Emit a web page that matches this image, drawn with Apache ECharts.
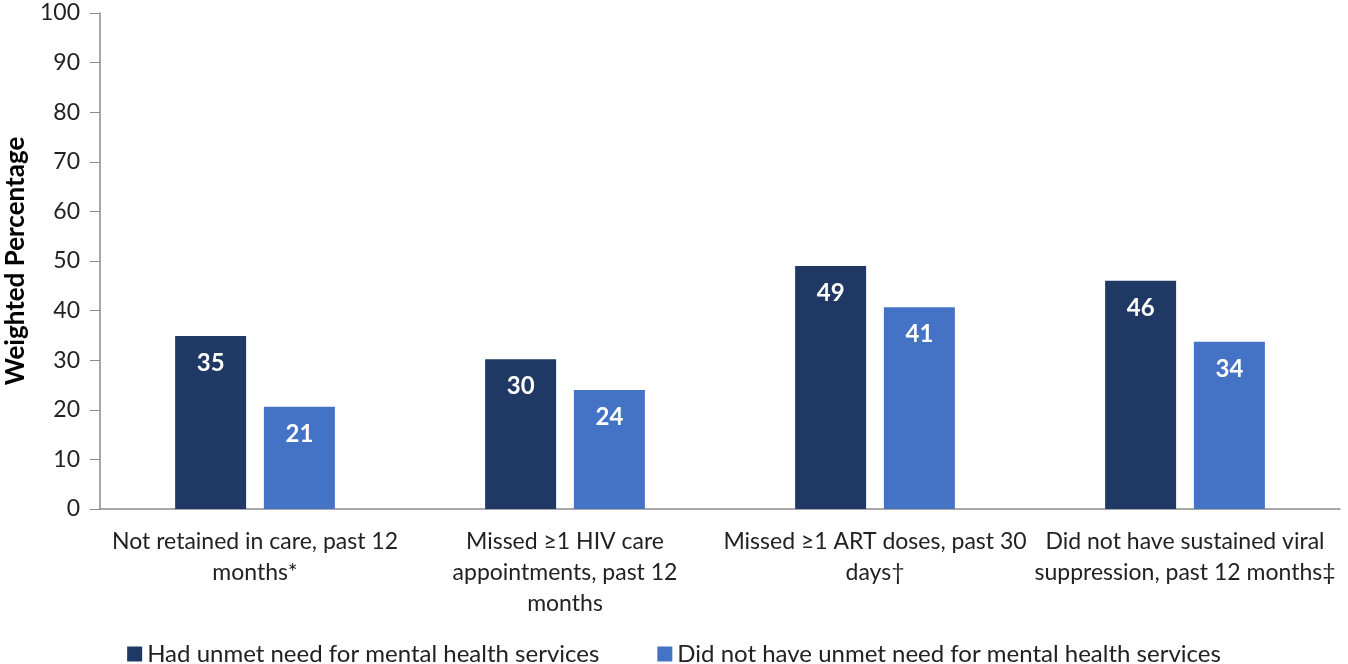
<!DOCTYPE html>
<html>
<head>
<meta charset="utf-8">
<script src="https://cdn.jsdelivr.net/npm/echarts@6/dist/echarts.min.js"></script>
<style>
    html, body { margin: 0; padding: 0; background: #fff; }
    #main { width: 1348px; height: 664px; }
</style>
</head>
<body>
<div id="main"></div>
<script>
// 分类与数据
var categories = [
    'Not retained in care, past 12\nmonths*',
    'Missed \u22651 HIV care\nappointments, past 12\nmonths',
    'Missed \u22651 ART doses, past 30\ndays\u2020',
    'Did not have sustained viral\nsuppression, past 12 months\u2021'
]
var hadUnmet = [34.9, 30.2, 49.0, 46.0]   // Had unmet need
var noUnmet = [20.6, 24.0, 40.7, 33.7]    // Did not have unmet need
var seriesNames = ['Had unmet need for mental health services', 'Did not have unmet need for mental health services']

var chart = echarts.init(document.getElementById('main'))
var font = 'Lato'

var labelCfg = {
    show: true,
    position: 'insideTop',
    distance: 15,
    color: '#fff',
    fontWeight: 'bold',
    fontSize: 24,
    fontFamily: font,
    formatter: function (p) { return Math.round(p.value) }
}

option = {
    backgroundColor: '#fff',
    animation: false,
    grid: {
        left: 100,
        right: 8,
        top: 13,
        bottom: 155,
        outerBoundsMode: 'none',
        containLabel: false
    },
    legend: {
        top: 637,
        left: 'center',
        icon: 'rect',
        itemWidth: 15,
        itemHeight: 15,
        itemGap: 58,
        textStyle: { fontSize: 24, fontFamily: font, color: '#222' },
        data: seriesNames
    },
    xAxis: {
        type: 'category',
        data: categories,
        axisTick: { show: false },
        axisLine: { lineStyle: { color: '#8c8c8c', width: 1.5 } },
        axisLabel: {
            interval: 0,
            margin: 17,
            fontSize: 23,
            lineHeight: 31,
            fontFamily: font,
            color: '#222'
        }
    },
    yAxis: {
        type: 'value',
        min: 0,
        max: 100,
        interval: 10,
        name: 'Weighted Percentage',
        nameLocation: 'middle',
        nameGap: 70,
        nameTextStyle: { fontSize: 26, fontWeight: 'bold', fontFamily: font, color: '#000' },
        splitLine: { show: false },
        axisLine: { show: true, lineStyle: { color: '#8c8c8c', width: 1.5 } },
        axisTick: { show: true, length: 10, lineStyle: { color: '#8c8c8c' } },
        axisLabel: { fontSize: 23, fontFamily: font, color: '#222', margin: 20 }
    },
    series: [
        {
            name: seriesNames[0],
            type: 'bar',
            data: hadUnmet,
            barWidth: 71,
            barGap: '25%',
            itemStyle: { color: '#203864' },
            label: labelCfg
        },
        {
            name: seriesNames[1],
            type: 'bar',
            data: noUnmet,
            barWidth: 71,
            itemStyle: { color: '#4472C4' },
            label: labelCfg
        }
    ]
}

chart.setOption(option)
</script>
</body>
</html>
